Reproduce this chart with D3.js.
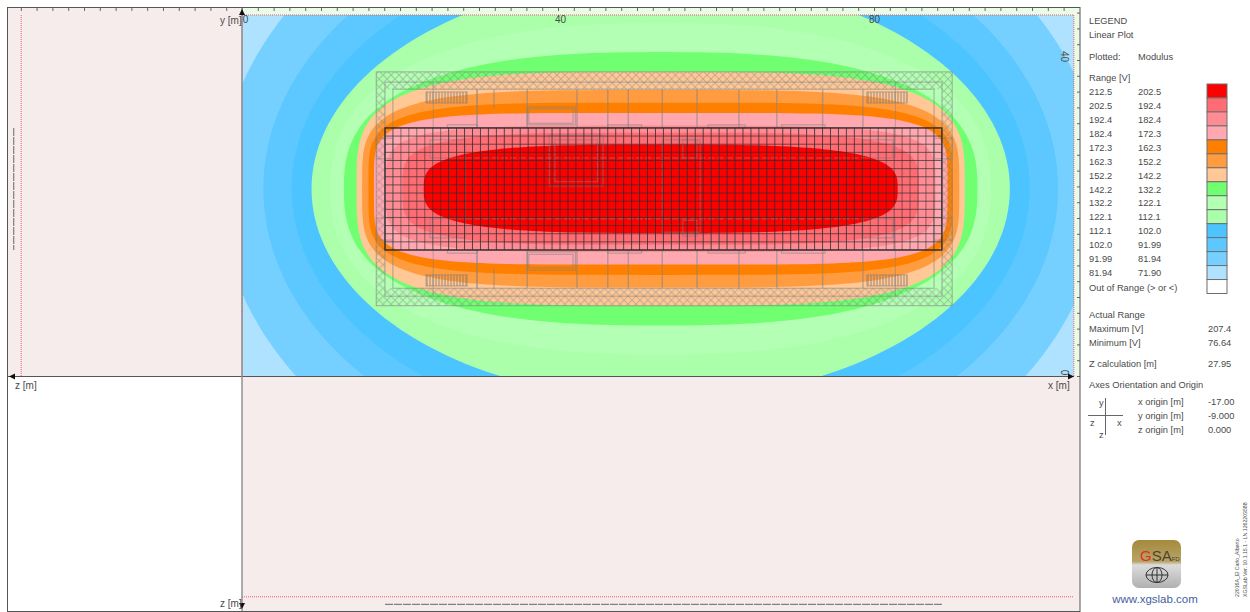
<!DOCTYPE html>
<html lang="en">
<head>
  <meta charset="UTF-8">
  <title>GSA-FD potential map</title>
  <script src="https://d3js.org/d3.v7.min.js"></script>
  <style>
    body { margin: 0; background: #fff; }
    svg { display: block; }
    text { font-family: 'Liberation Sans', Arial, sans-serif; font-size: 9.3px; fill: #4a4a4a; }
  </style>
</head>
<body>
  <svg width="1250" height="612"></svg>

  <script>
    // Legend
    const rangeFrom = ["212.5", "202.5", "192.4", "182.4", "172.3", "162.3", "152.2", "142.2", "132.2", "122.1", "112.1", "102.0", "91.99", "81.94"];
    const rangeTo = ["202.5", "192.4", "182.4", "172.3", "162.3", "152.2", "142.2", "132.2", "122.1", "112.1", "102.0", "91.99", "81.94", "71.90"];
    const bandColors = ["#ff0000", "#ff6c74", "#ff8c94", "#ffa8b0", "#ff8000", "#ff9c40", "#ffc896", "#70ff70", "#b3ffb3", "#abffab", "#4cc4ff", "#5cc8ff", "#75d0ff", "#aee2ff"];

    // Contour outlines, inner to outer, in metres
    const contourHalfX = [30, 32.7, 34.8, 36.3, 37, 37.8, 38.5, 40.1, 41.8, 44.2, 46.7, 50.3, 55.8];
    const contourHalfY = [5.6, 7.1, 8, 9.6, 10.9, 12.5, 14.8, 17.3, 21, 26.7, 31, 35.6, 42.2];
    const contourSquare = [3.2, 4, 4.6, 5, 4.5, 4, 3.6, 2.6, 2.4, 2, 2, 2, 2];
    const contourCentre = [53, 23.7];

    const plotX = [0, 105.3];
    const plotY = [0, 45.7];
    const zCalc = 27.95;
    const zBuilding = 28.9;

    const actualRange = [["Maximum [V]", "207.4"], ["Minimum [V]", "76.64"]];
    const origins = [["x origin [m]", "-17.00"], ["y origin [m]", "-9.000"], ["z origin [m]", "0.000"]];

    // Building outlines [x0, y0, x1, y1] in metres
    const meshX = d3.range(18.1, 88.7, 1.007);
    const meshY = d3.range(15.95, 31.5, 1.03);
    const meshCoreX = [26, 78.6];
    const hatchRects = [[17, 36.3, 89.9, 38.5], [17, 8.9, 89.9, 11.1], [17, 11.1, 18.1, 36.3], [88.6, 11.1, 89.9, 36.3]];
    const louvreRects = [[23.3, 34.55, 28.5, 35.95], [79.1, 34.55, 84.2, 35.95], [23.3, 11.4, 28.5, 12.8], [79.1, 11.4, 84.2, 12.8]];
    const outlineRects = [
      [17, 8.9, 89.9, 38.5], [18.1, 10.1, 88.6, 37.2], [19.1, 11.1, 87.6, 36.3],
      [36.1, 31.8, 42.2, 34.05], [36.3, 32, 41.9, 33.8], [36.1, 13.4, 42.2, 15.7], [36.3, 13.7, 41.9, 15.4],
      [38.9, 24.05, 45.7, 30.5], [39.6, 24.6, 45, 29.9], [53.2, 18.2, 58, 29.9],
      [55.8, 27.6, 57.6, 29.9], [55.8, 17.7, 57.6, 19.7],
      [23.8, 27.6, 28.2, 29.9], [23.8, 17.5, 28.2, 19.9], [78.6, 27.6, 82.4, 29.9], [78.6, 17.5, 82.4, 19.9],
      [17, 27.5, 19.1, 30.1], [17, 17.2, 19.1, 20], [87.6, 27.5, 89.9, 30.1], [87.6, 17.2, 89.9, 20],
      [26, 31.4, 29.8, 31.8], [46.3, 31.4, 50.6, 31.8], [59, 31.4, 63.7, 31.8], [68.3, 31.4, 73.8, 31.8],
      [26, 15.55, 29.8, 15.95], [46.3, 15.55, 50.6, 15.95], [59, 15.55, 63.7, 15.95], [68.3, 15.55, 73.8, 15.95]
    ];
    const roomWallsX = [29.75, 36.1, 42.4, 46.3, 48.9, 53.2, 57.6, 62.9, 67.7, 73.5, 78.6];
    const shortWallsX = [31.9];
    const sideWallsX = [24.2, 82.7];

    const axisLabels = [0, 40, 80];

    const svg = d3.select("svg");

    // Scales, same metres-to-pixels in every panel
    const x = d3.scaleLinear().domain([0, 100]).range([242, 1032]);
    const y = d3.scaleLinear().domain([0, 40]).range([376, 60]);
    const zLeft = d3.scaleLinear().domain([0, 30]).range([242, 5]);
    const zDown = d3.scaleLinear().domain([0, 30]).range([376, 613]);

    // Panel backgrounds
    svg.append("rect").attr("x", 8).attr("y", 8).attr("width", 1072).attr("height", 603).attr("fill", "#f7ecec");
    svg.append("rect").attr("x", 8).attr("y", 376).attr("width", 234).attr("height", 235).attr("fill", "#fff");
    svg.append("rect").attr("x", 242).attr("y", 8).attr("width", 838).attr("height", 368).attr("fill", "#ecfbe8");

    // Hatch patterns
    const defs = svg.append("defs");
    defs.append("clipPath").attr("id", "plot-clip").append("rect")
      .attr("x", x(plotX[0])).attr("y", y(plotY[1]))
      .attr("width", x(plotX[1]) - x(plotX[0])).attr("height", y(plotY[0]) - y(plotY[1]));
    const cross = defs.append("pattern").attr("id", "cross").attr("patternUnits", "userSpaceOnUse")
      .attr("width", 7.9).attr("height", 7.9);
    cross.append("path").attr("d", "M0,0L7.9,7.9M7.9,0L0,7.9").attr("stroke", "#808080").attr("stroke-opacity", 0.45).attr("fill", "none");
    const stripes = defs.append("pattern").attr("id", "stripes").attr("patternUnits", "userSpaceOnUse")
      .attr("width", 3).attr("height", 3);
    stripes.append("path").attr("d", "M1,0V3").attr("stroke", "#707070").attr("stroke-opacity", 0.7).attr("fill", "none");

    // Contour bands, outer first
    const plot = svg.append("g").attr("clip-path", "url(#plot-clip)");
    plot.append("rect")
      .attr("x", x(plotX[0])).attr("y", y(plotY[1]))
      .attr("width", x(plotX[1]) - x(plotX[0])).attr("height", y(plotY[0]) - y(plotY[1]))
      .attr("fill", bandColors[13]);

    const outline = d3.line().curve(d3.curveLinearClosed);
    function contourPath(i) {
      const e = 2 / contourSquare[i];
      return outline(d3.range(0, 360, 2).map(function(deg) {
        const c = Math.cos(deg * Math.PI / 180), s = Math.sin(deg * Math.PI / 180);
        return [
          x(contourCentre[0] + contourHalfX[i] * Math.sign(c) * Math.pow(Math.abs(c), e)),
          y(contourCentre[1] + contourHalfY[i] * Math.sign(s) * Math.pow(Math.abs(s), e))
        ];
      }));
    }
    plot.selectAll("path.band")
      .data(d3.range(contourHalfX.length).reverse())
      .enter().append("path")
      .attr("class", "band")
      .attr("fill", function(i) { return bandColors[i]; })
      .attr("d", contourPath);

    // Building overlay
    function rectAttrs(sel) {
      sel.attr("x", function(d) { return x(d[0]); })
        .attr("y", function(d) { return y(d[3]); })
        .attr("width", function(d) { return x(d[2]) - x(d[0]); })
        .attr("height", function(d) { return y(d[1]) - y(d[3]); });
    }
    plot.selectAll("rect.hatch").data(hatchRects).enter().append("rect")
      .attr("class", "hatch").attr("fill", "url(#cross)").call(rectAttrs);
    plot.selectAll("rect.louvre").data(louvreRects).enter().append("rect")
      .attr("class", "louvre").attr("fill", "url(#stripes)")
      .attr("stroke", "#808080").attr("stroke-opacity", 0.6).call(rectAttrs);
    plot.selectAll("rect.room").data(outlineRects).enter().append("rect")
      .attr("class", "room").attr("fill", "none")
      .attr("stroke", "#808080").attr("stroke-opacity", 0.5).attr("stroke-width", 1.2).call(rectAttrs);

    const walls = plot.append("g").attr("stroke", "#808080").attr("stroke-opacity", 0.5);
    function wall(wx, y0, y1, w) {
      walls.append("line").attr("x1", x(wx)).attr("x2", x(wx)).attr("y1", y(y0)).attr("y2", y(y1)).attr("stroke-width", w);
    }
    roomWallsX.forEach(function(d) {
      wall(d, 36.3, 31.4, d === 29.75 ? 2 : 1.5);
      wall(d, 15.95, 11.1, d === 29.75 ? 2 : 1.5);
    });
    shortWallsX.forEach(function(d) { wall(d, 36.3, 33.8, 1.4); wall(d, 11.1, 13.6, 1.4); });
    sideWallsX.forEach(function(d) { wall(d, 37.2, 27.6, 1); wall(d, 10.1, 19.9, 1); });
    wall(28.2, 27.6, 19.9, 1.4);

    // Long corridor lines through the mesh
    [27.6, 19.9].forEach(function(d) {
      walls.append("line").attr("x1", x(28.2)).attr("x2", x(78.6)).attr("y1", y(d)).attr("y2", y(d))
        .attr("stroke-width", 1.5).attr("stroke-dasharray", "7 2");
    });

    // Earthing mesh
    const mesh = plot.append("g").attr("stroke", "#2e2e2e");
    mesh.selectAll("line.v").data(meshX).enter().append("line").attr("class", "v")
      .attr("x1", function(d) { return x(d); }).attr("x2", function(d) { return x(d); })
      .attr("y1", y(d3.max(meshY))).attr("y2", y(d3.min(meshY)))
      .attr("stroke-opacity", function(d) { return d > meshCoreX[0] && d < meshCoreX[1] ? 0.8 : 0.55; });
    mesh.selectAll("line.h").data(meshY).enter().append("line").attr("class", "h")
      .attr("x1", x(d3.min(meshX))).attr("x2", x(d3.max(meshX)))
      .attr("y1", function(d) { return y(d); }).attr("y2", function(d) { return y(d); })
      .attr("stroke-opacity", 0.68);
    mesh.append("rect").attr("fill", "none").attr("stroke-width", 1.3).attr("stroke-opacity", 0.9)
      .attr("x", x(d3.min(meshX))).attr("y", y(d3.max(meshY)))
      .attr("width", x(d3.max(meshX)) - x(d3.min(meshX))).attr("height", y(d3.min(meshY)) - y(d3.max(meshY)));

    // Side views of the mesh
    svg.append("line").attr("x1", zLeft(zBuilding)).attr("x2", zLeft(zBuilding))
      .attr("y1", y(d3.max(meshY))).attr("y2", y(d3.min(meshY)))
      .attr("stroke", "#808080").attr("stroke-width", 1.2).attr("stroke-dasharray", "8 1");
    svg.append("line").attr("x1", x(d3.min(meshX))).attr("x2", x(d3.max(meshX)))
      .attr("y1", zDown(zBuilding)).attr("y2", zDown(zBuilding))
      .attr("stroke", "#808080").attr("stroke-width", 1.2).attr("stroke-dasharray", "8 1");

    // Red dotted calculation planes
    const dotted = svg.append("g").attr("stroke", "#f05a6a").attr("stroke-width", 1).attr("stroke-dasharray", "1 1");
    dotted.append("line").attr("x1", zLeft(zCalc)).attr("x2", zLeft(zCalc)).attr("y1", y(plotY[1])).attr("y2", y(plotY[0]));
    dotted.append("line").attr("x1", x(0)).attr("x2", x(plotX[1])).attr("y1", zDown(zCalc)).attr("y2", zDown(zCalc));
    dotted.append("line").attr("x1", x(0)).attr("x2", x(plotX[1])).attr("y1", y(plotY[1])).attr("y2", y(plotY[1]));
    dotted.append("line").attr("x1", x(plotX[1])).attr("x2", x(plotX[1])).attr("y1", y(plotY[1])).attr("y2", y(plotY[0]));
    dotted.append("line").attr("x1", x(0)).attr("x2", x(0)).attr("y1", y(plotY[1])).attr("y2", y(plotY[0]));

    // Frame ticks
    function frameTicks(g) {
      g.select(".domain").remove();
      g.selectAll(".tick text").remove();
      g.selectAll(".tick line").attr("stroke", "#666");
    }
    svg.append("g").attr("transform", "translate(0,8)")
      .call(d3.axisTop(x).tickValues(d3.range(-28, 106, 2)).tickSize(-3)).call(frameTicks);
    svg.append("g").attr("transform", "translate(1080,0)")
      .call(d3.axisRight(y).tickValues(d3.range(0, 47, 2)).tickSize(-3)).call(frameTicks);

    // Tick labels
    const topLabels = svg.append("g").attr("transform", "translate(0,26)")
      .call(d3.axisTop(x).tickValues(axisLabels).tickSize(0).tickFormat(d3.format("d")));
    topLabels.select(".domain").remove();
    topLabels.selectAll("text").attr("fill", "#4a4a4a").style("font-size", "10px")
      .attr("dx", function(d) { return d === 0 ? 3 : d === 40 ? 2 : 0; });

    const rightLabels = svg.append("g").attr("transform", "translate(1060,0)")
      .call(d3.axisRight(y).tickValues([0, 40]).tickSize(0).tickFormat(d3.format("d")));
    rightLabels.select(".domain").remove();
    rightLabels.selectAll("text")
      .attr("x", 0).attr("y", 0).attr("dy", 0)
      .attr("transform", "translate(1,-4) rotate(90)")
      .attr("text-anchor", "middle").attr("fill", "#4a4a4a").style("font-size", "10px");

    // Axes and frame
    const axes = svg.append("g").attr("stroke", "#555");
    axes.append("rect").attr("x", 7.5).attr("y", 7.5).attr("width", 1072.5).attr("height", 604)
      .attr("fill", "none").attr("stroke-width", 1);
    axes.append("line").attr("x1", 8).attr("x2", 1074).attr("y1", 376.5).attr("y2", 376.5).attr("stroke-width", 1);
    axes.append("line").attr("x1", 242).attr("x2", 242).attr("y1", 8).attr("y2", 611)
      .attr("stroke", "#8a8a8a").attr("stroke-width", 1.4);

    const arrows = svg.append("g").attr("fill", "#111");
    arrows.append("path").attr("d", "M242,9L239,15H245Z");
    arrows.append("path").attr("d", "M9,376.5L15,373.5V379.5Z");
    arrows.append("path").attr("d", "M242,609L239,603H245Z");
    arrows.append("path").attr("d", "M1074,376.5L1068,373.5V379.5Z");

    [["y [m]", 220, 24], ["z [m]", 15, 389], ["x [m]", 1048, 389], ["z [m]", 220, 607]].forEach(function(d) {
      svg.append("text").attr("x", d[1]).attr("y", d[2]).style("font-size", "10px").text(d[0]);
    });

    // Legend panel
    const legend = svg.append("g");
    function label(txt, lx, ly) {
      legend.append("text").attr("x", lx).attr("y", ly).attr("dy", "0.35em").text(txt);
    }
    label("LEGEND", 1089, 21);
    label("Linear Plot", 1089, 35);
    label("Plotted:", 1089, 56.5);
    label("Modulus", 1138, 56.5);
    label("Range [V]", 1089, 77.5);

    const row = d3.scaleLinear().domain([0, 15]).range([84, 293.5]);
    rangeFrom.forEach(function(d, i) {
      label(d, 1089, row(i) + 7.5);
      label(rangeTo[i], 1138, row(i) + 7.5);
    });
    legend.selectAll("rect.swatch")
      .data(bandColors.concat(["#ffffff"]))
      .enter().append("rect")
      .attr("class", "swatch")
      .attr("x", 1207).attr("width", 20)
      .attr("y", function(d, i) { return row(i); })
      .attr("height", row(1) - row(0))
      .attr("fill", function(d) { return d; })
      .attr("stroke", "#6e6e6e");
    label("Out of Range (> or <)", 1089, 288);

    label("Actual Range", 1089, 315);
    actualRange.forEach(function(d, i) {
      label(d[0], 1089, 329 + i * 14);
      label(d[1], 1208, 329 + i * 14);
    });
    label("Z calculation [m]", 1089, 364);
    label("27.95", 1208, 364);
    label("Axes Orientation and Origin", 1089, 385);
    origins.forEach(function(d, i) {
      label(d[0], 1138, 402 + i * 13.7);
      label(d[1], 1208, 402 + i * 13.7);
    });

    // Small orientation cross
    legend.append("line").attr("x1", 1088).attr("x2", 1123).attr("y1", 415.5).attr("y2", 415.5).attr("stroke", "#666");
    legend.append("line").attr("x1", 1105.5).attr("x2", 1105.5).attr("y1", 398).attr("y2", 435).attr("stroke", "#666");
    label("y", 1099, 403);
    label("z", 1090, 423);
    label("x", 1117, 423);
    label("z", 1099, 435);

    // Logo
    const grad = defs.append("linearGradient").attr("id", "logo-grad").attr("x1", 0).attr("x2", 0).attr("y1", 0).attr("y2", 1);
    [[0, "#a58a3c"], [0.45, "#b7a468"], [0.52, "#dcdcdc"], [1, "#b0b0b0"]].forEach(function(d) {
      grad.append("stop").attr("offset", d[0]).attr("stop-color", d[1]);
    });
    const logo = svg.append("g");
    logo.append("rect").attr("x", 1132).attr("y", 540).attr("width", 49).attr("height", 48).attr("rx", 7).attr("fill", "url(#logo-grad)");
    const gsa = logo.append("text").attr("x", 1140).attr("y", 561).style("font-size", "15px");
    gsa.append("tspan").style("fill", "#e0301e").text("G");
    gsa.append("tspan").style("fill", "#4d4330").text("SA");
    gsa.append("tspan").style("fill", "#4d4330").style("font-size", "6px").text("FD");
    const globe = logo.append("g").attr("fill", "none").attr("stroke", "#333");
    globe.append("ellipse").attr("cx", 1157).attr("cy", 575).attr("rx", 11).attr("ry", 7.5);
    globe.append("ellipse").attr("cx", 1157).attr("cy", 575).attr("rx", 5).attr("ry", 7.5);
    globe.append("line").attr("x1", 1146).attr("x2", 1168).attr("y1", 575).attr("y2", 575);
    globe.append("line").attr("x1", 1157).attr("x2", 1157).attr("y1", 567.5).attr("y2", 582.5);
    logo.append("text").attr("x", 1155).attr("y", 603).attr("text-anchor", "middle")
      .style("font-size", "11.5px").style("fill", "#3f5f9f").text("www.xgslab.com");

    // Licence lines up the right edge
    [["22016A_El Carlo_Alberto", 1239], ["XGSLab Ver. 10.1.15.1 - LN 1262203588", 1247]].forEach(function(d) {
      svg.append("text")
        .attr("transform", "translate(" + d[1] + ",597) rotate(-90)")
        .style("font-size", "5.2px").text(d[0]);
    });
  </script>
</body>
</html>
